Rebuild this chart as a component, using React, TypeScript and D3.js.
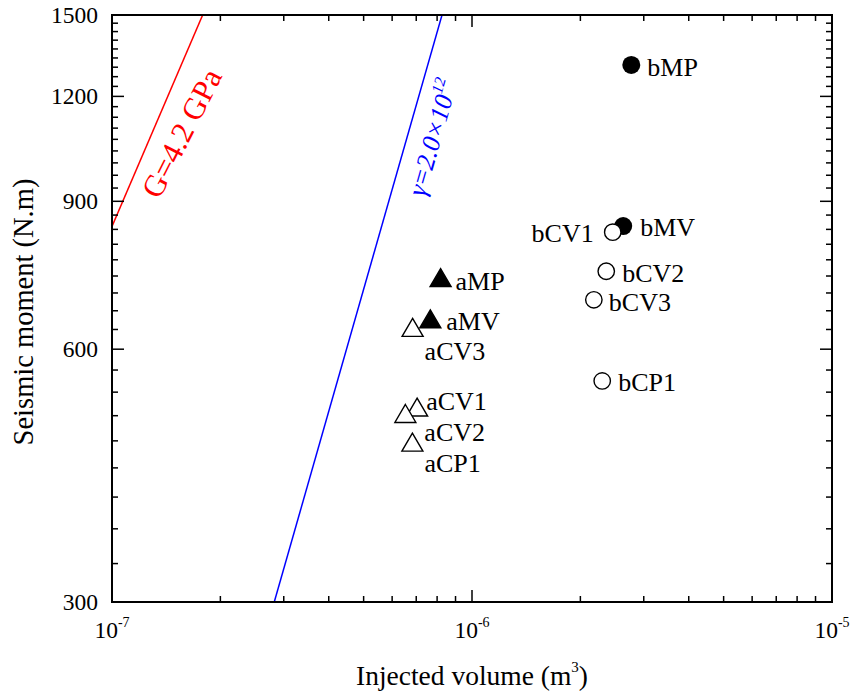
import React from 'react'
import * as d3 from 'd3'

// injection tests, group a (triangles) and group b (circles)
const aNames = ['aCV1', 'aCV2', 'aCP1', 'aCV3', 'aMV', 'aMP']
const aVolume = [7.04e-7, 6.53e-7, 6.83e-7, 6.84e-7, 7.66e-7, 8.18e-7]
const aMoment = [512, 503, 465, 637, 652, 730]
const aFilled = [false, false, false, false, true, true]

const bNames = ['bMP', 'bMV', 'bCV1', 'bCV2', 'bCV3', 'bCP1']
const bVolume = [2.77e-6, 2.63e-6, 2.46e-6, 2.36e-6, 2.18e-6, 2.3e-6]
const bMoment = [1308, 841, 827, 743, 687, 550]
const bFilled = [true, true, false, false, false, false]

// reference lines: M = 2 G V and M = gamma V^1.5
const shearModulus = 4.2e9
const gamma = 2.0e12

const xMajorExp = [-7, -6, -5]
const yMajor = [300, 600, 900, 1200, 1500]

// label placement (pixels, relative to marker)
const labelOffsets: Record<string, [number, number, string]> = {
  aCV1: [9, 3, 'start'],
  aCV2: [19, 27, 'start'],
  aCP1: [12, 30, 'start'],
  aCV3: [12, 33, 'start'],
  aMV: [16, 11, 'start'],
  aMP: [15, 12, 'start'],
  bMP: [16, 11, 'start'],
  bMV: [17, 10, 'start'],
  bCV1: [-19, 10, 'end'],
  bCV2: [16, 11, 'start'],
  bCV3: [15, 11, 'start'],
  bCP1: [16, 10, 'start'],
}

const width = 854
const height = 696
const left = 112
const right = 832
const top = 15
const bottom = 602
const font = '"Liberation Serif", "Times New Roman", serif'

export default function App() {
  const x = d3.scaleLog().domain([1e-7, 1e-5]).range([left, right])
  const y = d3.scaleLog().domain([300, 1500]).range([bottom, top])

  const xMinor: number[] = []
  for (let e = -7; e < -5; e++) {
    for (let m = 2; m <= 9; m++) xMinor.push(m * Math.pow(10, e))
  }
  const yMinor: number[] = []
  for (let k = 1; k < 36; k++) {
    if (k % 9 !== 0) yMinor.push(300 + (k * 300) / 9)
  }

  const line = d3.line<[number, number]>().x(d => x(d[0])).y(d => y(d[1]))
  const vs = [1e-7, 1e-5]
  const redPath = line(vs.map(v => [v, 2 * shearModulus * v] as [number, number]))
  const bluePath = line(vs.map(v => [v, gamma * Math.pow(v, 1.5)] as [number, number]))

  const triangle = (cx: number, cy: number) =>
    `M${cx},${cy - 9}L${cx + 10.5},${cy + 9}L${cx - 10.5},${cy + 9}Z`

  const major = 12
  const minor = 6

  return (
    <svg width={width} height={height} style={{ position: 'absolute', left: 0, top: 0, background: '#fff' }} fontFamily={font}>
      <defs>
        <clipPath id="plot">
          <rect x={left} y={top} width={right - left} height={bottom - top} />
        </clipPath>
      </defs>

      <g clipPath="url(#plot)">
        <path d={redPath || ''} fill="none" stroke="#ff0000" strokeWidth={1.5} />
        <path d={bluePath || ''} fill="none" stroke="#0000ff" strokeWidth={1.5} />
      </g>

      {/* ticks, inward on all four sides */}
      <g stroke="#000" strokeWidth={1.5}>
        {xMajorExp.map(e => {
          const px = x(Math.pow(10, e))
          return (
            <g key={'xM' + e}>
              <line x1={px} x2={px} y1={bottom} y2={bottom - major} />
              <line x1={px} x2={px} y1={top} y2={top + major} />
            </g>
          )
        })}
        {xMinor.map((v, i) => (
          <g key={'xm' + i}>
            <line x1={x(v)} x2={x(v)} y1={bottom} y2={bottom - minor} />
            <line x1={x(v)} x2={x(v)} y1={top} y2={top + minor} />
          </g>
        ))}
        {yMajor.map(v => (
          <g key={'yM' + v}>
            <line x1={left} x2={left + major} y1={y(v)} y2={y(v)} />
            <line x1={right} x2={right - major} y1={y(v)} y2={y(v)} />
          </g>
        ))}
        {yMinor.map((v, i) => (
          <g key={'ym' + i}>
            <line x1={left} x2={left + minor} y1={y(v)} y2={y(v)} />
            <line x1={right} x2={right - minor} y1={y(v)} y2={y(v)} />
          </g>
        ))}
      </g>
      <rect x={left} y={top} width={right - left} height={bottom - top} fill="none" stroke="#000" strokeWidth={2} />

      {/* tick labels */}
      {yMajor.map(v => (
        <text key={'yl' + v} x={left - 14} y={y(v) + 8} fontSize={23.5} textAnchor="end">{v}</text>
      ))}
      {xMajorExp.map(e => (
        <text key={'xl' + e} x={x(Math.pow(10, e))} y={638} fontSize={23.5} textAnchor="middle">
          10<tspan fontSize={14} dy={-11}>{e}</tspan>
        </text>
      ))}

      {/* axis titles */}
      <text x={(left + right) / 2} y={685} fontSize={27.5} textAnchor="middle">
        Injected volume (m<tspan fontSize={15} dy={-13}>3</tspan><tspan dy={13}>)</tspan>
      </text>
      <text transform="translate(33,312) rotate(-90)" fontSize={28.5} textAnchor="middle">
        Seismic moment (N.m)
      </text>

      {/* line annotations */}
      <text transform="translate(191,138) rotate(-63)" fontSize={31} fill="#ff0000" textAnchor="middle">
        G=4.2 GPa
      </text>
      <text transform="translate(441,140) rotate(-74)" fontSize={26} fill="#0000ff" fontStyle="italic" textAnchor="middle">
        γ=2.0×10<tspan fontSize={16} dy={-12}>12</tspan>
      </text>

      {/* group a: triangles */}
      {aNames.map((n, i) => {
        const cx = x(aVolume[i])
        const cy = y(aMoment[i])
        return (
          <path key={n} d={triangle(cx, cy)} fill={aFilled[i] ? '#000' : '#fff'} stroke="#000" strokeWidth={1.4} strokeLinejoin="miter" />
        )
      })}
      {/* group b: circles */}
      {bNames.map((n, i) => {
        const cx = x(bVolume[i])
        const cy = y(bMoment[i])
        return bFilled[i]
          ? <circle key={n} cx={cx} cy={cy} r={9} fill="#000" />
          : <circle key={n} cx={cx} cy={cy} r={8.2} fill="#fff" stroke="#000" strokeWidth={1.4} />
      })}

      {/* point labels */}
      {aNames.map((n, i) => {
        const [dx, dy, anchor] = labelOffsets[n]
        return (
          <text key={'l' + n} x={x(aVolume[i]) + dx} y={y(aMoment[i]) + dy} fontSize={26} textAnchor={anchor}>{n}</text>
        )
      })}
      {bNames.map((n, i) => {
        const [dx, dy, anchor] = labelOffsets[n]
        return (
          <text key={'l' + n} x={x(bVolume[i]) + dx} y={y(bMoment[i]) + dy} fontSize={26} textAnchor={anchor}>{n}</text>
        )
      })}
    </svg>
  )
}
